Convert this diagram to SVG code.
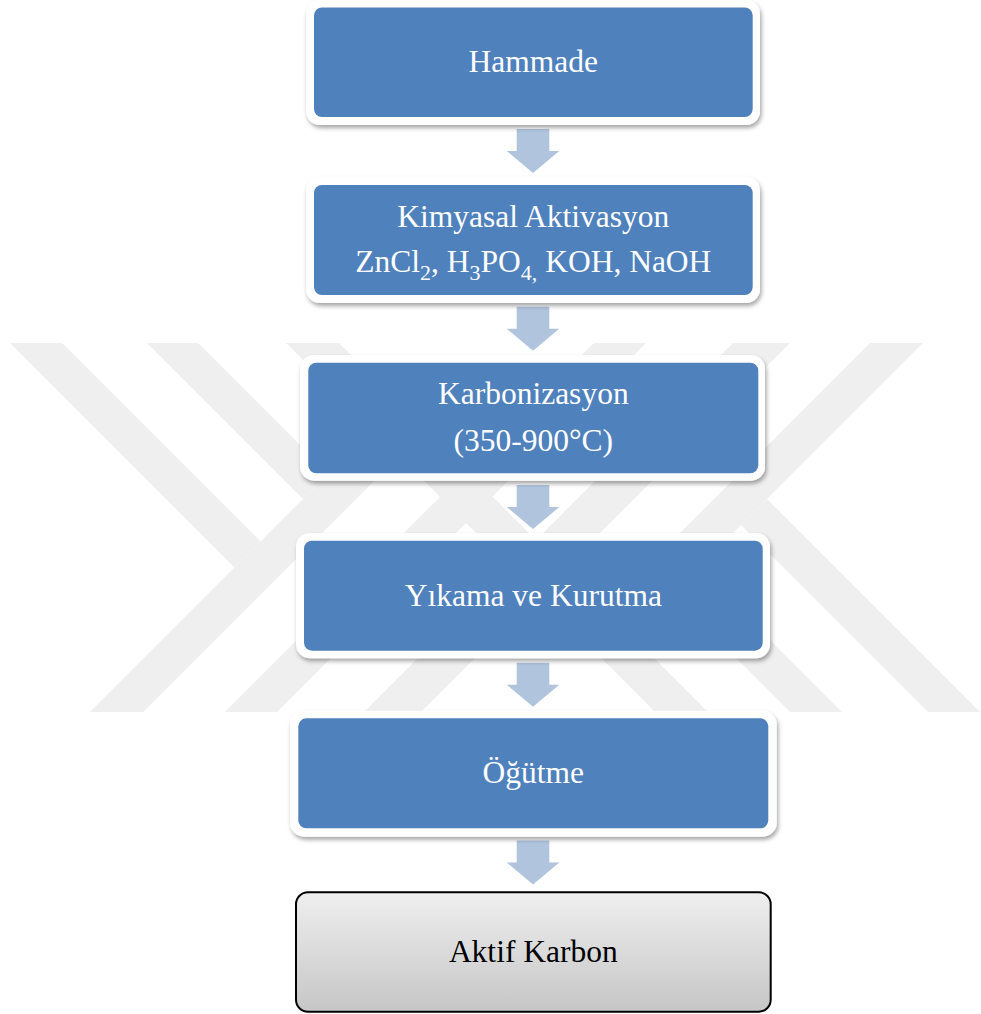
<svg xmlns="http://www.w3.org/2000/svg" width="981" height="1014" viewBox="0 0 981 1014">
<defs>
<style>
.wm{fill:#efefef}
.outer{fill:#ffffff;filter:url(#sh)}
.inner{fill:#4f81bd}
.t{font-family:"Liberation Serif","Times New Roman",serif;font-size:31.5px;fill:#ffffff;text-anchor:middle}
.tb{fill:#000000}
.arr{fill:#b0c4de}
</style>
<filter id="sh" x="-5%" y="-10%" width="112%" height="130%">
<feDropShadow dx="1.5" dy="3" stdDeviation="2" flood-color="#000" flood-opacity="0.35"/>
</filter>
<linearGradient id="gr" x1="0" y1="0" x2="0" y2="1">
<stop offset="0" stop-color="#efefef"/>
<stop offset="1" stop-color="#c6c6c6"/>
</linearGradient>
<clipPath id="wmclip"><rect x="0" y="343" width="981" height="369"/></clipPath>
<path id="arrow" d="M516.7 129 H549.3 V151 H559.3 L533 173 L506.7 151 H516.7 Z"/>
</defs>
<rect width="981" height="1014" fill="#ffffff"/>
<g id="watermark" clip-path="url(#wmclip)">
<polygon class="wm" points="-166.5,166.5 -140.5,140.5 260.5,541.5 234.5,567.5"/>
<polygon class="wm" points="-98,98 -72.5,72.5 328.5,473.5 303,499"/>
<polygon class="wm" points="-28.5,28.5 -2,2 998,1002 971.5,1028.5"/>
<polygon class="wm" points="672,594 698,568 1065,935 1039,961"/>
<polygon class="wm" points="741,525 767,499 1134,866 1108,892"/>
<polygon class="wm" points="-599,1401 -572.5,1427.5 399,456 372.5,429.5"/>
<polygon class="wm" points="-531.5,1468.5 -505.5,1494.5 1494.5,-505.5 1468.5,-531.5"/>
<polygon class="wm" points="-462,1538 -433.5,1566.5 1566.5,-433.5 1538,-462"/>
<polygon class="wm" points="604.5,608.5 631,635 1633,-367 1606.5,-393.5"/>
</g>
<g id="connectors">
<use href="#arrow" class="arr"/>
<use href="#arrow" class="arr" transform="translate(0,177.7)"/>
<use href="#arrow" class="arr" transform="translate(0,356)"/>
<use href="#arrow" class="arr" transform="translate(0,533.7)"/>
<use href="#arrow" class="arr" transform="translate(0,711.5)"/>
</g>
<g id="node-hammade">
<rect class="outer" x="306" y="0" width="454" height="125" rx="14"/>
<rect class="inner" x="314" y="7.5" width="438.7" height="109.5" rx="8"/>
<text class="t" x="533.3" y="72">Hammade</text>
</g>
<g id="node-kimyasal">
<rect class="outer" x="306" y="176.7" width="454" height="126.3" rx="14"/>
<rect class="inner" x="314" y="185" width="438.7" height="110" rx="8"/>
<text class="t" x="533.3" y="226.7">Kimyasal Aktivasyon</text>
<text class="t" x="533.3" y="271.7">ZnCl<tspan font-size="22px" dy="8">2</tspan><tspan dy="-8">, H</tspan><tspan font-size="22px" dy="8">3</tspan><tspan dy="-8">PO</tspan><tspan font-size="22px" dy="8">4,</tspan><tspan dy="-8"> KOH, NaOH</tspan></text>
</g>
<g id="node-karbonizasyon">
<rect class="outer" x="300" y="355" width="465" height="125.7" rx="14"/>
<rect class="inner" x="308.3" y="362.7" width="450" height="110.6" rx="8"/>
<text class="t" x="533.3" y="404">Karbonizasyon</text>
<text class="t" x="533.3" y="451">(350-900°C)</text>
</g>
<g id="node-yikama">
<rect class="outer" x="296" y="533" width="474" height="125.3" rx="14"/>
<rect class="inner" x="304" y="540.7" width="458.7" height="110" rx="8"/>
<text class="t" x="533.3" y="606">Yıkama ve Kurutma</text>
</g>
<g id="node-ogutme">
<rect class="outer" x="290" y="710.7" width="486.7" height="126" rx="14"/>
<rect class="inner" x="298.3" y="718.3" width="470" height="110" rx="8"/>
<text class="t" x="533.3" y="783.3">Öğütme</text>
</g>
<g id="node-aktif-karbon">
<rect x="296" y="892.3" width="474.7" height="119.4" rx="12" fill="url(#gr)" stroke="#000000" stroke-width="2"/>
<text class="t tb" x="533.3" y="961.7">Aktif Karbon</text>
</g>
</svg>
